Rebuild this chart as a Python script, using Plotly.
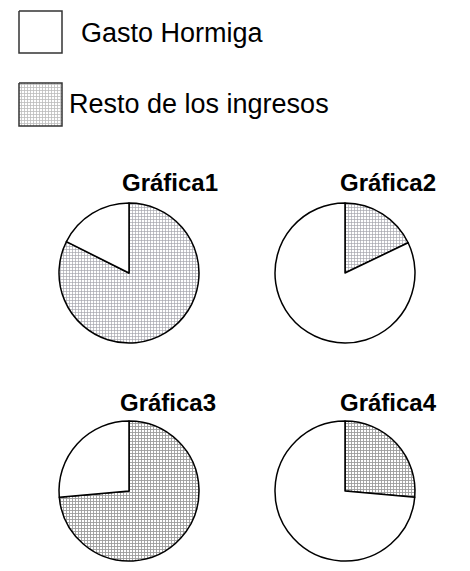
import plotly.graph_objects as go

labels = ["Resto de los ingresos", "Gasto Hormiga"]
titles = ["Gráfica1", "Gráfica2", "Gráfica3", "Gráfica4"]
resto = [82.4, 17.9, 73.6, 26.4]
gasto = [17.6, 82.1, 26.4, 73.6]

W, H = 470, 571
OFF = 8  # page body margin offset
centers = [(129, 273), (345, 273), (129, 491), (345, 491)]
R = 70
title_pos = [(170, 182), (388, 182), (168, 402), (388, 402)]
patterns = [
    dict(shape="+", size=3, fgcolor="#a4a4ac", solidity=0.4),
    dict(shape="+", size=3, fgcolor="#a4a4ac", solidity=0.4),
    dict(shape="+", size=3, fgcolor="#9a9a9a", solidity=0.5),
    dict(shape="+", size=3, fgcolor="#9a9a9a", solidity=0.5),
]

def px(x):
    return x - OFF

def py(y):
    return y - OFF

fig = go.Figure()
for i in range(4):
    cx, cy = px(centers[i][0]), py(centers[i][1])
    fig.add_trace(go.Pie(
        labels=labels, values=[resto[i], gasto[i]],
        sort=False, direction="clockwise", rotation=0,
        textinfo="none", hoverinfo="label+percent", showlegend=False,
        marker=dict(colors=["white", "white"],
                    line=dict(color="black", width=1.5),
                    pattern=dict(shape=[patterns[i]["shape"], ""],
                                 size=patterns[i]["size"],
                                 fgcolor=patterns[i]["fgcolor"],
                                 bgcolor=["white", "white"],
                                 solidity=patterns[i]["solidity"])),
        domain=dict(x=[(cx - R) / W, (cx + R) / W],
                    y=[1 - (cy + R) / H, 1 - (cy - R) / H]),
    ))
    fig.add_annotation(x=px(title_pos[i][0]), y=py(title_pos[i][1]), xref="x", yref="y",
                       text="<b>%s</b>" % titles[i], showarrow=False,
                       font=dict(size=24, color="black", family="Liberation Sans"))

# legend boxes
fig.add_trace(go.Scatter(x=[px(v) for v in [19, 62, 62, 19, 19]],
                         y=[py(v) for v in [11, 11, 53, 53, 11]], mode="lines",
                         fill="toself", fillcolor="white", line=dict(color="#333", width=1.5),
                         showlegend=False, hoverinfo="skip"))
fig.add_trace(go.Scatter(x=[px(v) for v in [19, 62, 62, 19, 19]],
                         y=[py(v) for v in [83, 83, 126, 126, 83]], mode="lines",
                         fill="toself", fillcolor="white",
                         fillpattern=dict(shape="+", size=3, fgcolor="#777", bgcolor="white", solidity=0.45),
                         line=dict(color="#333", width=1.5),
                         showlegend=False, hoverinfo="skip"))
fig.add_annotation(x=px(79), y=py(33), xref="x", yref="y", text="Gasto Hormiga", showarrow=False,
                   xanchor="left", font=dict(size=27, color="black", family="Liberation Sans"))
fig.add_annotation(x=px(67), y=py(104), xref="x", yref="y", text="Resto de los ingresos", showarrow=False,
                   xanchor="left", font=dict(size=27, color="black", family="Liberation Sans"))

fig.update_layout(
    width=W, height=H, margin=dict(l=0, r=0, t=0, b=0),
    paper_bgcolor="white", plot_bgcolor="rgba(0,0,0,0)",
    xaxis=dict(range=[0, W], visible=False, domain=[0, 1], fixedrange=True),
    yaxis=dict(range=[H, 0], visible=False, domain=[0, 1], fixedrange=True),
)
fig.write_html("out.html")
